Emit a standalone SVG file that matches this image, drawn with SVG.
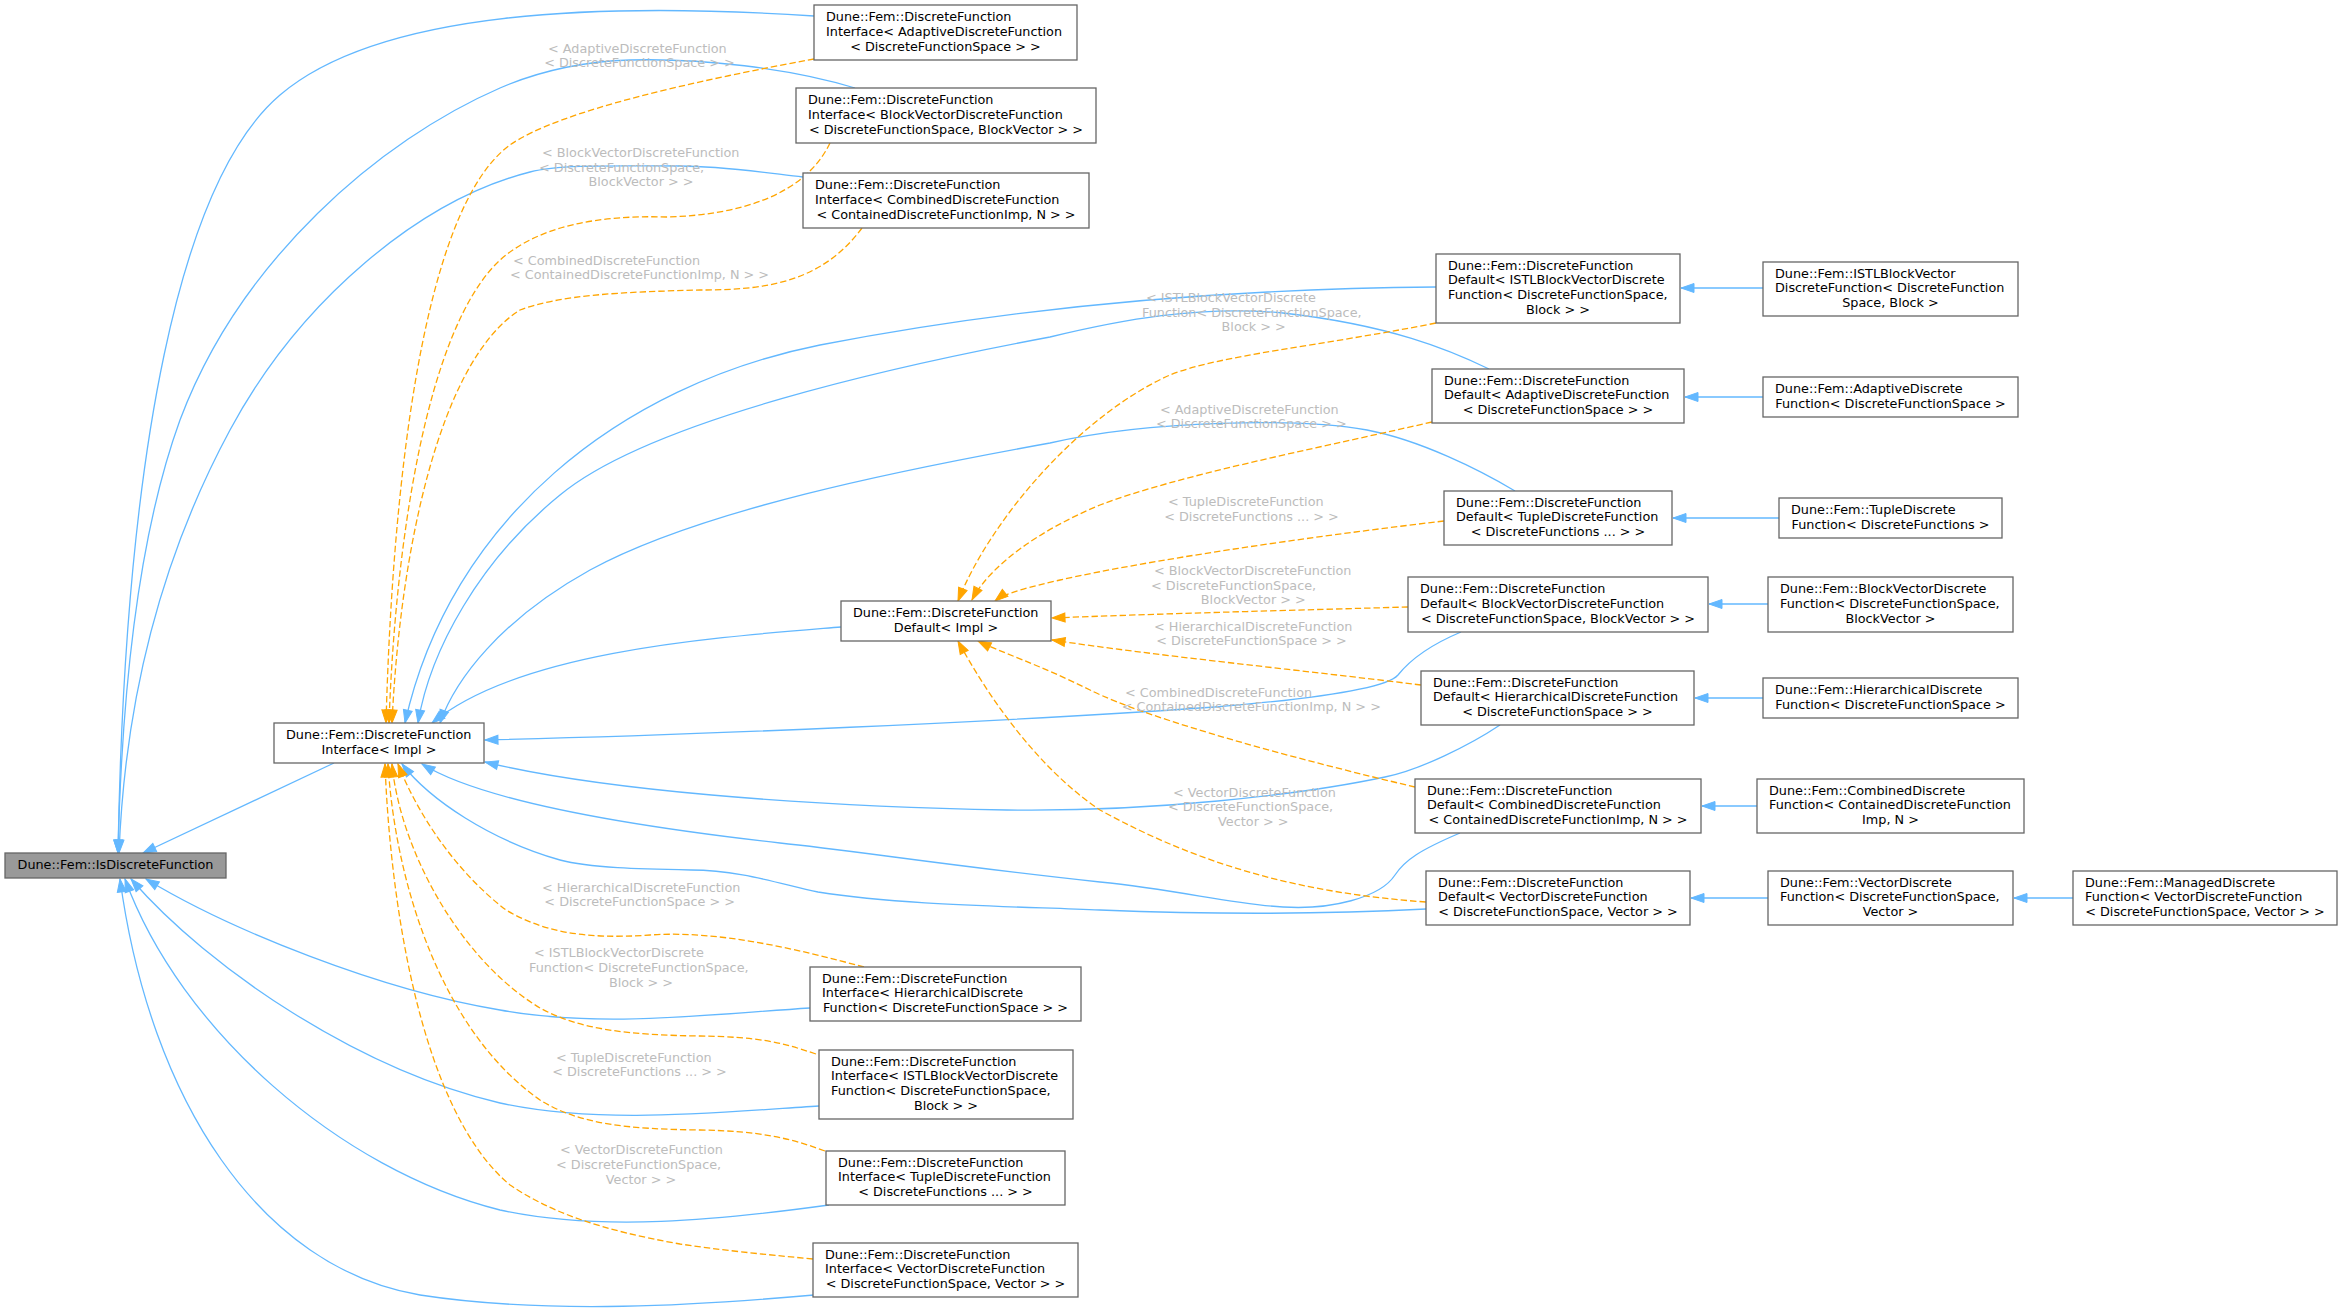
<svg xmlns="http://www.w3.org/2000/svg" width="2343" height="1312" viewBox="0 0 2343 1312">
<defs>
<style>
.n{fill:#fff;stroke:#666;stroke-width:1.3}
.t{font-family:"DejaVu Sans",sans-serif;font-size:12.8px;fill:#000}
.m{text-anchor:middle}
.l{font-family:"DejaVu Sans",sans-serif;font-size:12.8px;fill:#bcbcbc}
.b{fill:none;stroke:#63b8ff;stroke-width:1.3;marker-end:url(#ab)}
.o{fill:none;stroke:#ffa500;stroke-width:1.3;stroke-dasharray:6.4 3;marker-end:url(#ao)}
</style>
<marker id="ab" markerUnits="userSpaceOnUse" markerWidth="13" markerHeight="10" viewBox="0 0 13 10" refX="13" refY="5" orient="auto" overflow="visible"><path d="M0,0.5 L13,5 L0,9.5 z" fill="#63b8ff" stroke="#63b8ff" stroke-width="1"/></marker>
<marker id="ao" markerUnits="userSpaceOnUse" markerWidth="13" markerHeight="10" viewBox="0 0 13 10" refX="13" refY="5" orient="auto" overflow="visible"><path d="M0,0.5 L13,5 L0,9.5 z" fill="#ffa500" stroke="#ffa500" stroke-width="1"/></marker>
</defs>
<rect width="2343" height="1312" fill="#fff"/>
<g id="connectors">
<path class="b" d="M334,763 L143,853"/>
<path class="b" d="M814,16 C600,2 380,10 280,95 C180,180 125,450 118,853"/>
<path class="b" d="M855,88 C790,68 700,58 630,60 C570,62 530,75 500,88 C380,140 240,260 180,420 C140,530 122,680 118,853"/>
<path class="b" d="M803,177 C760,172 720,166 680,166 C620,166 560,164 530,172 C420,200 300,300 230,430 C160,560 125,700 119,853"/>
<path class="b" d="M810,1008 C700,1015 600,1028 500,1010 C380,990 230,930 146,879"/>
<path class="b" d="M819,1106 C720,1112 600,1125 500,1103 C360,1070 210,970 131,879"/>
<path class="b" d="M829,1205 C720,1220 600,1232 500,1210 C340,1170 180,1030 125,879"/>
<path class="b" d="M814,1295 C700,1305 550,1315 420,1295 C260,1268 150,1100 120,879"/>
<path class="b" d="M841,627 C720,637 520,650 432,723"/>
<path class="b" d="M1436,287 C1200,289 1000,310 820,345 C620,385 450,520 405,723"/>
<path class="b" d="M1489,369 C1450,350 1390,325 1283,313 C1200,305 1120,320 1050,337 C900,365 650,420 560,495 C480,560 430,650 418,723"/>
<path class="b" d="M1515,491 C1480,470 1420,440 1367,430 C1300,418 1150,420 1050,443 C900,470 700,510 590,570 C500,620 455,680 440,723"/>
<path class="b" d="M1461,632 C1430,645 1410,660 1398,675 C1385,690 1300,700 1215,707 C1000,722 700,735 485,740"/>
<path class="b" d="M1500,725 C1470,745 1420,770 1385,777 C1300,795 1150,812 1007,810 C800,806 600,790 485,762"/>
<path class="b" d="M1460,833 C1420,850 1405,860 1395,875 C1380,898 1330,910 1283,907 C1230,904 1180,890 1100,882 C950,866 850,850 780,843 C620,825 480,800 422,764"/>
<path class="b" d="M1426,909 C1350,913 1250,916 1100,910 C1000,906 900,905 818,892 C780,884 740,870 691,870 C640,869 590,868 560,860 C490,840 430,800 402,764"/>
<path class="b" d="M1763,288 L1681,288"/>
<path class="b" d="M1763,397 L1685,397"/>
<path class="b" d="M1779,518 L1673,518"/>
<path class="b" d="M1768,604 L1709,604"/>
<path class="b" d="M1763,698 L1695,698"/>
<path class="b" d="M1757,806 L1702,806"/>
<path class="b" d="M1768,898 L1691,898"/>
<path class="b" d="M2073,898 L2014,898"/>
<path class="o" d="M814,59 C700,80 560,110 510,145 C420,210 392,500 386,723"/>
<path class="o" d="M830,143 C805,195 740,215 667,217 C600,215 540,225 500,260 C425,330 395,550 389,723"/>
<path class="o" d="M862,228 C820,285 760,290 700,290 C620,292 560,295 520,310 C440,360 400,550 392,723"/>
<path class="o" d="M864,967 C800,950 720,930 650,935 C580,940 540,930 506,910 C460,875 420,820 398,764"/>
<path class="o" d="M816,1054 C780,1042 760,1037 700,1036 C630,1035 580,1030 540,1008 C460,960 400,850 392,764"/>
<path class="o" d="M825,1151 C790,1138 760,1131 700,1130 C630,1129 580,1125 540,1100 C440,1030 395,880 388,764"/>
<path class="o" d="M813,1259 C760,1254 720,1250 680,1244 C600,1230 550,1212 510,1185 C420,1110 390,900 385,764"/>
<path class="o" d="M1436,323 C1320,346 1220,355 1170,375 C1080,415 990,520 958,601"/>
<path class="o" d="M1432,422 C1300,452 1180,475 1100,505 C1040,530 990,565 972,600"/>
<path class="o" d="M1444,521 C1300,538 1150,560 1060,580 C1030,587 1005,593 995,601"/>
<path class="o" d="M1408,607 C1300,610 1150,614 1052,618"/>
<path class="o" d="M1421,685 C1300,670 1150,655 1052,640"/>
<path class="o" d="M1415,787 C1300,760 1150,720 1090,690 C1040,665 1000,652 978,641"/>
<path class="o" d="M1426,902 C1300,893 1200,865 1100,810 C1040,770 990,700 958,641"/>
<text class="l" x="548" y="53">&lt; AdaptiveDiscreteFunction</text>
<text class="l m" x="639.5" y="67">&lt; DiscreteFunctionSpace &gt; &gt;</text>
<text class="l" x="542" y="157">&lt; BlockVectorDiscreteFunction</text>
<text class="l" x="539" y="172">&lt; DiscreteFunctionSpace,</text>
<text class="l m" x="641" y="186">BlockVector &gt; &gt;</text>
<text class="l" x="513" y="265">&lt; CombinedDiscreteFunction</text>
<text class="l m" x="639.5" y="279">&lt; ContainedDiscreteFunctionImp, N &gt; &gt;</text>
<text class="l" x="542" y="892">&lt; HierarchicalDiscreteFunction</text>
<text class="l m" x="639.7" y="906">&lt; DiscreteFunctionSpace &gt; &gt;</text>
<text class="l" x="534" y="957">&lt; ISTLBlockVectorDiscrete</text>
<text class="l" x="529" y="972">Function&lt; DiscreteFunctionSpace,</text>
<text class="l m" x="641" y="987">Block &gt; &gt;</text>
<text class="l" x="556" y="1062">&lt; TupleDiscreteFunction</text>
<text class="l m" x="639.5" y="1076">&lt; DiscreteFunctions ... &gt; &gt;</text>
<text class="l" x="560" y="1154">&lt; VectorDiscreteFunction</text>
<text class="l" x="556" y="1169">&lt; DiscreteFunctionSpace,</text>
<text class="l m" x="641" y="1184">Vector &gt; &gt;</text>
<text class="l" x="1146" y="302">&lt; ISTLBlockVectorDiscrete</text>
<text class="l" x="1142" y="317">Function&lt; DiscreteFunctionSpace,</text>
<text class="l m" x="1253.7" y="331">Block &gt; &gt;</text>
<text class="l" x="1160" y="414">&lt; AdaptiveDiscreteFunction</text>
<text class="l m" x="1251.3" y="428">&lt; DiscreteFunctionSpace &gt; &gt;</text>
<text class="l" x="1168" y="506">&lt; TupleDiscreteFunction</text>
<text class="l m" x="1251.5" y="521">&lt; DiscreteFunctions ... &gt; &gt;</text>
<text class="l" x="1154" y="575">&lt; BlockVectorDiscreteFunction</text>
<text class="l" x="1151" y="590">&lt; DiscreteFunctionSpace,</text>
<text class="l m" x="1253.3" y="604">BlockVector &gt; &gt;</text>
<text class="l" x="1154" y="631">&lt; HierarchicalDiscreteFunction</text>
<text class="l m" x="1251.5" y="645">&lt; DiscreteFunctionSpace &gt; &gt;</text>
<text class="l" x="1125" y="697">&lt; CombinedDiscreteFunction</text>
<text class="l m" x="1251.3" y="711">&lt; ContainedDiscreteFunctionImp, N &gt; &gt;</text>
<text class="l" x="1173" y="797">&lt; VectorDiscreteFunction</text>
<text class="l" x="1168" y="811">&lt; DiscreteFunctionSpace,</text>
<text class="l m" x="1253.3" y="826">Vector &gt; &gt;</text>
</g>
<g id="isdf"><rect x="5" y="853" width="221" height="25" fill="#999" stroke="#666" stroke-width="1.3"/><text class="t m" x="115.5" y="868.8">Dune::Fem::IsDiscreteFunction</text></g>
<g id="ifimpl"><rect class="n" x="274" y="723" width="210" height="40"/><text class="t" x="286" y="738.9">Dune::Fem::DiscreteFunction</text><text class="t m" x="379" y="753.7">Interface&lt; Impl &gt;</text></g>
<g id="defimpl"><rect class="n" x="841" y="601" width="210" height="40"/><text class="t" x="853" y="616.9">Dune::Fem::DiscreteFunction</text><text class="t m" x="946" y="631.7">Default&lt; Impl &gt;</text></g>
<g id="ifadaptive"><rect class="n" x="814" y="5" width="263" height="55"/><text class="t" x="826" y="21">Dune::Fem::DiscreteFunction</text><text class="t" x="826" y="35.8">Interface&lt; AdaptiveDiscreteFunction</text><text class="t m" x="945.5" y="50.6">&lt; DiscreteFunctionSpace &gt; &gt;</text></g>
<g id="ifbv"><rect class="n" x="796" y="88" width="300" height="55"/><text class="t" x="808" y="104">Dune::Fem::DiscreteFunction</text><text class="t" x="808" y="118.8">Interface&lt; BlockVectorDiscreteFunction</text><text class="t m" x="946" y="133.6">&lt; DiscreteFunctionSpace, BlockVector &gt; &gt;</text></g>
<g id="ifcombined"><rect class="n" x="803" y="173" width="286" height="55"/><text class="t" x="815" y="189">Dune::Fem::DiscreteFunction</text><text class="t" x="815" y="203.8">Interface&lt; CombinedDiscreteFunction</text><text class="t m" x="946" y="218.6">&lt; ContainedDiscreteFunctionImp, N &gt; &gt;</text></g>
<g id="ifhier"><rect class="n" x="810" y="967" width="271" height="54"/><text class="t" x="822" y="982.5">Dune::Fem::DiscreteFunction</text><text class="t" x="822" y="997.3">Interface&lt; HierarchicalDiscrete</text><text class="t m" x="945.5" y="1012.1">Function&lt; DiscreteFunctionSpace &gt; &gt;</text></g>
<g id="ifistl"><rect class="n" x="819" y="1050" width="254" height="69"/><text class="t" x="831" y="1065.6">Dune::Fem::DiscreteFunction</text><text class="t" x="831" y="1080.4">Interface&lt; ISTLBlockVectorDiscrete</text><text class="t" x="831" y="1095.2">Function&lt; DiscreteFunctionSpace,</text><text class="t m" x="946" y="1110">Block &gt; &gt;</text></g>
<g id="iftuple"><rect class="n" x="826" y="1151" width="239" height="54"/><text class="t" x="838" y="1166.5">Dune::Fem::DiscreteFunction</text><text class="t" x="838" y="1181.3">Interface&lt; TupleDiscreteFunction</text><text class="t m" x="945.5" y="1196.1">&lt; DiscreteFunctions ... &gt; &gt;</text></g>
<g id="ifvector"><rect class="n" x="813" y="1243" width="265" height="54"/><text class="t" x="825" y="1258.5">Dune::Fem::DiscreteFunction</text><text class="t" x="825" y="1273.3">Interface&lt; VectorDiscreteFunction</text><text class="t m" x="945.5" y="1288.1">&lt; DiscreteFunctionSpace, Vector &gt; &gt;</text></g>
<g id="defistl"><rect class="n" x="1436" y="254" width="244" height="69"/><text class="t" x="1448" y="269.6">Dune::Fem::DiscreteFunction</text><text class="t" x="1448" y="284.4">Default&lt; ISTLBlockVectorDiscrete</text><text class="t" x="1448" y="299.2">Function&lt; DiscreteFunctionSpace,</text><text class="t m" x="1558" y="314">Block &gt; &gt;</text></g>
<g id="defadaptive"><rect class="n" x="1432" y="369" width="252" height="54"/><text class="t" x="1444" y="384.5">Dune::Fem::DiscreteFunction</text><text class="t" x="1444" y="399.3">Default&lt; AdaptiveDiscreteFunction</text><text class="t m" x="1558" y="414.1">&lt; DiscreteFunctionSpace &gt; &gt;</text></g>
<g id="deftuple"><rect class="n" x="1444" y="491" width="228" height="54"/><text class="t" x="1456" y="506.5">Dune::Fem::DiscreteFunction</text><text class="t" x="1456" y="521.3">Default&lt; TupleDiscreteFunction</text><text class="t m" x="1558" y="536.1">&lt; DiscreteFunctions ... &gt; &gt;</text></g>
<g id="defbv"><rect class="n" x="1408" y="577" width="300" height="55"/><text class="t" x="1420" y="593">Dune::Fem::DiscreteFunction</text><text class="t" x="1420" y="607.8">Default&lt; BlockVectorDiscreteFunction</text><text class="t m" x="1558" y="622.6">&lt; DiscreteFunctionSpace, BlockVector &gt; &gt;</text></g>
<g id="defhier"><rect class="n" x="1421" y="671" width="273" height="54"/><text class="t" x="1433" y="686.5">Dune::Fem::DiscreteFunction</text><text class="t" x="1433" y="701.3">Default&lt; HierarchicalDiscreteFunction</text><text class="t m" x="1557.5" y="716.1">&lt; DiscreteFunctionSpace &gt; &gt;</text></g>
<g id="defcombined"><rect class="n" x="1415" y="779" width="286" height="54"/><text class="t" x="1427" y="794.5">Dune::Fem::DiscreteFunction</text><text class="t" x="1427" y="809.3">Default&lt; CombinedDiscreteFunction</text><text class="t m" x="1558" y="824.1">&lt; ContainedDiscreteFunctionImp, N &gt; &gt;</text></g>
<g id="defvector"><rect class="n" x="1426" y="871" width="264" height="54"/><text class="t" x="1438" y="886.5">Dune::Fem::DiscreteFunction</text><text class="t" x="1438" y="901.3">Default&lt; VectorDiscreteFunction</text><text class="t m" x="1558" y="916.1">&lt; DiscreteFunctionSpace, Vector &gt; &gt;</text></g>
<g id="istldf"><rect class="n" x="1763" y="262" width="255" height="54"/><text class="t" x="1775" y="277.5">Dune::Fem::ISTLBlockVector</text><text class="t" x="1775" y="292.3">DiscreteFunction&lt; DiscreteFunction</text><text class="t m" x="1890.5" y="307.1">Space, Block &gt;</text></g>
<g id="adaptivedf"><rect class="n" x="1763" y="377" width="255" height="40"/><text class="t" x="1775" y="392.9">Dune::Fem::AdaptiveDiscrete</text><text class="t m" x="1890.5" y="407.7">Function&lt; DiscreteFunctionSpace &gt;</text></g>
<g id="tupledf"><rect class="n" x="1779" y="498" width="223" height="40"/><text class="t" x="1791" y="513.9">Dune::Fem::TupleDiscrete</text><text class="t m" x="1890.5" y="528.7">Function&lt; DiscreteFunctions &gt;</text></g>
<g id="bvdf"><rect class="n" x="1768" y="577" width="245" height="55"/><text class="t" x="1780" y="593">Dune::Fem::BlockVectorDiscrete</text><text class="t" x="1780" y="607.8">Function&lt; DiscreteFunctionSpace,</text><text class="t m" x="1890.5" y="622.6">BlockVector &gt;</text></g>
<g id="hierdf"><rect class="n" x="1763" y="678" width="255" height="40"/><text class="t" x="1775" y="693.9">Dune::Fem::HierarchicalDiscrete</text><text class="t m" x="1890.5" y="708.7">Function&lt; DiscreteFunctionSpace &gt;</text></g>
<g id="combineddf"><rect class="n" x="1757" y="779" width="267" height="54"/><text class="t" x="1769" y="794.5">Dune::Fem::CombinedDiscrete</text><text class="t" x="1769" y="809.3">Function&lt; ContainedDiscreteFunction</text><text class="t m" x="1890.5" y="824.1">Imp, N &gt;</text></g>
<g id="vectordf"><rect class="n" x="1768" y="871" width="245" height="54"/><text class="t" x="1780" y="886.5">Dune::Fem::VectorDiscrete</text><text class="t" x="1780" y="901.3">Function&lt; DiscreteFunctionSpace,</text><text class="t m" x="1890.5" y="916.1">Vector &gt;</text></g>
<g id="manageddf"><rect class="n" x="2073" y="871" width="264" height="54"/><text class="t" x="2085" y="886.5">Dune::Fem::ManagedDiscrete</text><text class="t" x="2085" y="901.3">Function&lt; VectorDiscreteFunction</text><text class="t m" x="2205" y="916.1">&lt; DiscreteFunctionSpace, Vector &gt; &gt;</text></g>
</svg>
